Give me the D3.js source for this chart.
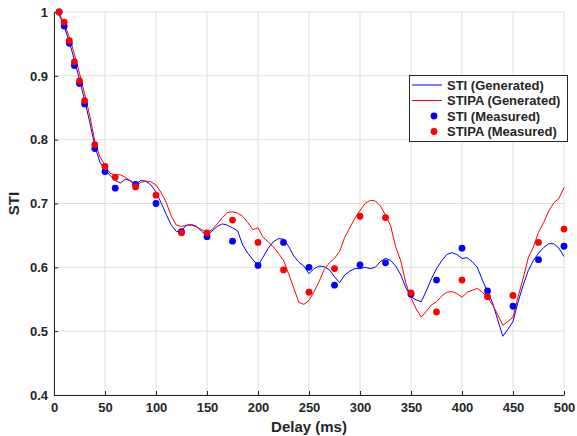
<!DOCTYPE html>
<html>
<head>
<meta charset="utf-8">
<script src="https://cdn.jsdelivr.net/npm/d3@7"></script>
<style>
  body { margin: 0; background: #fff; }
  text { font-family: "Liberation Sans", Arial, sans-serif; font-weight: bold; fill: #262626; }
</style>
</head>
<body>
<script>
// generated curves, sampled every 5 ms
var genDelay = d3.range(5, 501, 5);
var stiGenerated = [
  0.996, 0.978, 0.953, 0.925, 0.894, 0.862, 0.828, 0.790, 0.765, 0.752,
  0.744, 0.736, 0.732, 0.738, 0.736, 0.730, 0.736, 0.735, 0.729, 0.718,
  0.701, 0.683, 0.666, 0.656, 0.658, 0.666, 0.667, 0.664, 0.656, 0.650,
  0.657, 0.664, 0.668, 0.666, 0.662, 0.657, 0.635, 0.622, 0.612, 0.603,
  0.616, 0.630, 0.640, 0.645, 0.644, 0.633, 0.618, 0.608, 0.602, 0.590,
  0.598, 0.602, 0.601, 0.596, 0.585, 0.576, 0.588, 0.594, 0.598, 0.598,
  0.600, 0.598, 0.600, 0.609, 0.614, 0.611, 0.602, 0.588, 0.568, 0.554,
  0.549, 0.546, 0.563, 0.582, 0.598, 0.610, 0.620, 0.623, 0.620, 0.614,
  0.615, 0.609, 0.600, 0.580, 0.562, 0.544, 0.518, 0.492, 0.503, 0.515,
  0.546, 0.572, 0.595, 0.611, 0.622, 0.631, 0.637, 0.637, 0.630, 0.617
];
var stipaGenerated = [
  0.998, 0.982, 0.961, 0.934, 0.904, 0.872, 0.838, 0.798, 0.773, 0.760,
  0.747, 0.745, 0.745, 0.741, 0.735, 0.727, 0.733, 0.735, 0.734, 0.729,
  0.717, 0.702, 0.680, 0.666, 0.664, 0.666, 0.666, 0.663, 0.659, 0.654,
  0.659, 0.668, 0.678, 0.686, 0.687, 0.685, 0.680, 0.670, 0.659, 0.662,
  0.647, 0.640, 0.632, 0.622, 0.611, 0.590, 0.568, 0.545, 0.542, 0.548,
  0.562, 0.578, 0.597, 0.607, 0.614, 0.625, 0.647, 0.662, 0.677, 0.689,
  0.700, 0.705, 0.704, 0.696, 0.682, 0.665, 0.632, 0.610, 0.575, 0.552,
  0.535, 0.522, 0.531, 0.541, 0.546, 0.555, 0.561, 0.562, 0.559, 0.553,
  0.561, 0.564, 0.567, 0.561, 0.553, 0.541, 0.526, 0.509, 0.515, 0.522,
  0.554, 0.583, 0.615, 0.632, 0.655, 0.670, 0.688, 0.701, 0.708, 0.725
];

// measured points
var measDelay = [5, 10, 15, 20, 25, 30, 40, 50, 60, 80, 100, 125, 150, 175, 200,
                 225, 250, 275, 300, 325, 350, 375, 400, 425, 450, 475, 500];
var stiMeasured = [1.0, 0.978, 0.951, 0.916, 0.888, 0.856, 0.786, 0.750, 0.724, 0.730,
                   0.700, 0.656, 0.648, 0.641, 0.603, 0.639, 0.600, 0.572, 0.604, 0.607,
                   0.558, 0.580, 0.630, 0.563, 0.539, 0.612, 0.633];
var stipaMeasured = [1.0, 0.984, 0.955, 0.922, 0.892, 0.861, 0.792, 0.758, 0.741, 0.726,
                     0.713, 0.654, 0.654, 0.674, 0.639, 0.596, 0.561, 0.598, 0.680, 0.678,
                     0.560, 0.530, 0.580, 0.554, 0.556, 0.639, 0.660];

var xTicks = d3.range(0, 501, 50);
var yTicks = [0.4, 0.5, 0.6, 0.7, 0.8, 0.9, 1];
var legendLabels = ["STI (Generated)", "STIPA (Generated)", "STI (Measured)", "STIPA (Measured)"];

var margin = {top: 12, right: 13, bottom: 41, left: 54},
    width = 577 - margin.left - margin.right,
    height = 436 - margin.top - margin.bottom;

var x = d3.scaleLinear().domain([0, 500]).range([0, width]);
var y = d3.scaleLinear().domain([0.4, 1]).range([height, 0]);

var svg = d3.select("body").append("svg")
    .attr("width", 577)
    .attr("height", 436)
  .append("g")
    .attr("transform", "translate(" + margin.left + "," + margin.top + ")");

// grid
svg.append("g").selectAll("line")
    .data(xTicks)
  .enter().append("line")
    .attr("x1", d => x(d)).attr("x2", d => x(d))
    .attr("y1", 0).attr("y2", height)
    .attr("stroke", "#dfdfdf");
svg.append("g").selectAll("line")
    .data(yTicks)
  .enter().append("line")
    .attr("x1", 0).attr("x2", width)
    .attr("y1", d => y(d)).attr("y2", d => y(d))
    .attr("stroke", "#dfdfdf");

// axes, ticks pointing inward
var xAxis = svg.append("g")
    .attr("transform", "translate(0," + height + ")")
    .call(d3.axisBottom(x).tickValues(xTicks).tickSizeInner(-4).tickSizeOuter(0).tickPadding(8));
var yAxis = svg.append("g")
    .call(d3.axisLeft(y).tickValues(yTicks).tickFormat(d3.format("~g")).tickSizeInner(-4).tickSizeOuter(0).tickPadding(6));

[xAxis, yAxis].forEach(function(a) {
  a.select(".domain").attr("stroke", "#262626");
  a.selectAll(".tick line").attr("stroke", "#262626");
  a.selectAll(".tick text")
    .attr("fill", "#262626")
    .style("font-size", "13px")
    .style("font-family", "'Liberation Sans', Arial, sans-serif")
    .style("font-weight", "bold");
});

// axis labels
svg.append("text")
    .attr("x", width / 2)
    .attr("y", height + 37)
    .attr("text-anchor", "middle")
    .style("font-size", "15px")
    .text("Delay (ms)");
svg.append("text")
    .attr("transform", "translate(" + (-35) + "," + (height / 2) + ") rotate(-90)")
    .attr("text-anchor", "middle")
    .style("font-size", "15px")
    .text("STI");

// generated lines
var line = d3.line()
    .x((d, i) => x(genDelay[i]))
    .y(d => y(d));

svg.append("path")
    .datum(stiGenerated)
    .attr("fill", "none")
    .attr("stroke", "#0000ff")
    .attr("stroke-width", 1)
    .attr("d", line);
svg.append("path")
    .datum(stipaGenerated)
    .attr("fill", "none")
    .attr("stroke", "#ff0000")
    .attr("stroke-width", 1)
    .attr("d", line);

// measured dots
svg.append("g").selectAll("circle")
    .data(stiMeasured)
  .enter().append("circle")
    .attr("cx", (d, i) => x(measDelay[i]))
    .attr("cy", d => y(d))
    .attr("r", 3.4)
    .attr("fill", "#0000ff");
svg.append("g").selectAll("circle")
    .data(stipaMeasured)
  .enter().append("circle")
    .attr("cx", (d, i) => x(measDelay[i]))
    .attr("cy", d => y(d))
    .attr("r", 3.4)
    .attr("fill", "#ff0000");

// legend
var legend = svg.append("g")
    .attr("transform", "translate(" + (409 - margin.left) + "," + (75 - margin.top) + ")");
legend.append("rect")
    .attr("x", 0.5).attr("y", 0.5)
    .attr("width", 158).attr("height", 66)
    .attr("fill", "#fff")
    .attr("stroke", "#262626")
    .attr("stroke-width", 1);

var legendColors = ["#0000ff", "#ff0000", "#0000ff", "#ff0000"];
legendLabels.forEach(function(label, i) {
  var ly = 10 + i * 15.5;
  if (i < 2) {
    legend.append("line")
      .attr("x1", 3).attr("x2", 33)
      .attr("y1", ly).attr("y2", ly)
      .attr("stroke", legendColors[i])
      .attr("stroke-width", 1);
  } else {
    legend.append("circle")
      .attr("cx", 25).attr("cy", ly)
      .attr("r", 3.4)
      .attr("fill", legendColors[i]);
  }
  legend.append("text")
    .attr("x", 38)
    .attr("y", ly)
    .attr("dy", "0.35em")
    .style("font-size", "13px")
    .text(label);
});
</script>
</body>
</html>
